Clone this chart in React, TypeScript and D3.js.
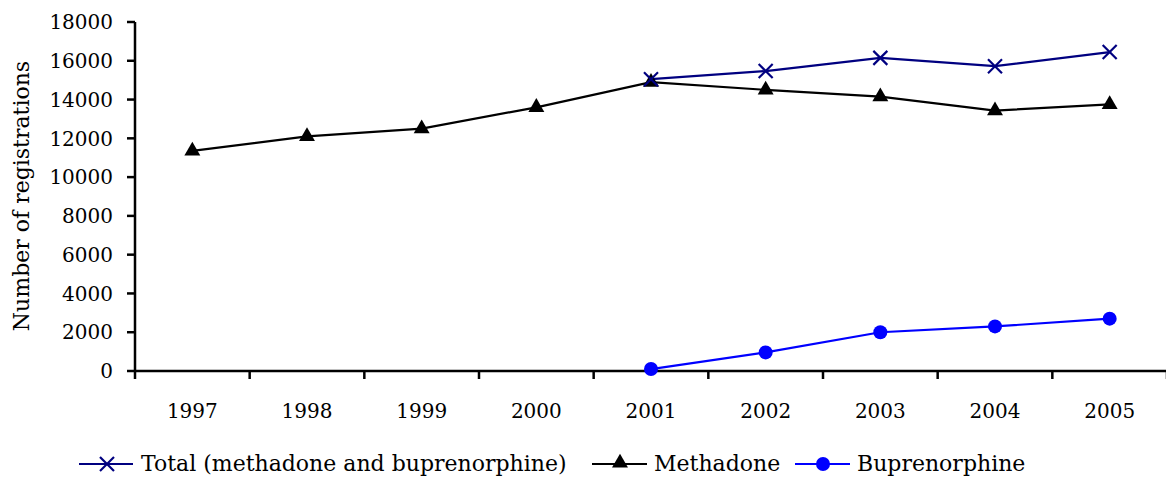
import React from "react";
import * as d3 from "d3";

const years = ["1997", "1998", "1999", "2000", "2001", "2002", "2003", "2004", "2005"];
const methadone = [11350, 12100, 12500, 13600, 14900, 14500, 14150, 13430, 13750];
const totalYears = ["2001", "2002", "2003", "2004", "2005"];
const totalValues = [15050, 15470, 16150, 15720, 16450];
const bupYears = ["2001", "2002", "2003", "2004", "2005"];
const bupValues = [100, 960, 2000, 2300, 2700];
const yTicks = [0, 2000, 4000, 6000, 8000, 10000, 12000, 14000, 16000, 18000];

const W = 1166;
const H = 479;
const FONT = "'DejaVu Serif', serif";
const FS = 20;
const TFS = 22;

export default function App() {
  const x = d3.scaleBand<string>().domain(years).range([135, 1167]);
  const y = d3.scaleLinear().domain([0, 18000]).range([371, 22]);
  const cx = (yr: string) => (x(yr) as number) + x.bandwidth() / 2;

  const line = d3
    .line<[string, number]>()
    .x((d) => cx(d[0]))
    .y((d) => y(d[1]));

  const methPts: [string, number][] = years.map((yr, i) => [yr, methadone[i]]);
  const totPts: [string, number][] = totalYears.map((yr, i) => [yr, totalValues[i]]);
  const bupPts: [string, number][] = bupYears.map((yr, i) => [yr, bupValues[i]]);

  const tri = d3.symbol().type(d3.symbolTriangle).size(110)() as string;

  const xMark = (px: number, py: number, key: string, color: string) => (
    <g key={key} stroke={color} strokeWidth={2.2}>
      <line x1={px - 7} y1={py - 7} x2={px + 7} y2={py + 7} />
      <line x1={px - 7} y1={py + 7} x2={px + 7} y2={py - 7} />
    </g>
  );

  const ticksX = d3.range(years.length + 1).map((i) => 135 + i * x.bandwidth());
  const LY = 464;

  return (
    <svg width={W} height={H} style={{ position: "absolute", left: 0, top: 0, background: "#fff" }}>
      <rect width={W} height={H} fill="#fff" />
      {/* y axis */}
      <line x1={135} y1={22} x2={135} y2={372} stroke="#000" strokeWidth={2.5} />
      {yTicks.map((t) => (
        <g key={t}>
          <line x1={127} y1={y(t)} x2={135} y2={y(t)} stroke="#000" strokeWidth={2.5} />
          <text x={113} y={y(t)} dy="0.36em" textAnchor="end" fontFamily={FONT} fontSize={FS} fill="#000">
            {t}
          </text>
        </g>
      ))}
      {/* x axis */}
      <line x1={134} y1={371} x2={1166} y2={371} stroke="#000" strokeWidth={2.5} />
      {ticksX.map((tx, i) => (
        <line key={i} x1={tx} y1={371} x2={tx} y2={379} stroke="#000" strokeWidth={2.5} />
      ))}
      {years.map((yr) => (
        <text key={yr} x={cx(yr)} y={418} textAnchor="middle" fontFamily={FONT} fontSize={FS} fill="#000">
          {yr}
        </text>
      ))}
      <text
        transform="translate(21,196) rotate(-90)"
        dy="0.36em"
        textAnchor="middle"
        fontFamily={FONT}
        fontSize={TFS}
        fill="#000"
      >
        Number of registrations
      </text>

      {/* lines */}
      <path d={line(methPts) as string} fill="none" stroke="#000" strokeWidth={2.2} />
      <path d={line(bupPts) as string} fill="none" stroke="#0000FF" strokeWidth={2.2} />
      <path d={line(totPts) as string} fill="none" stroke="#000080" strokeWidth={2.2} />

      {methPts.map((d) => (
        <path key={"m" + d[0]} d={tri} transform={`translate(${cx(d[0])},${y(d[1])})`} fill="#000" />
      ))}
      {bupPts.map((d) => (
        <circle key={"b" + d[0]} cx={cx(d[0])} cy={y(d[1])} r={7} fill="#0000FF" />
      ))}
      {totPts.map((d) => xMark(cx(d[0]), y(d[1]), "t" + d[0], "#000080"))}

      {/* legend */}
      <line x1={79} y1={LY} x2={133} y2={LY} stroke="#000080" strokeWidth={2.2} />
      {xMark(107, LY, "lt", "#000080")}
      <text x={141} y={471} fontFamily={FONT} fontSize={TFS} fill="#000">
        Total (methadone and buprenorphine)
      </text>
      <line x1={592} y1={LY} x2={647} y2={LY} stroke="#000" strokeWidth={2.2} />
      <path d={tri} transform={`translate(620,${LY - 1})`} fill="#000" />
      <text x={654} y={471} fontFamily={FONT} fontSize={TFS} fill="#000">
        Methadone
      </text>
      <line x1={795} y1={LY} x2={850} y2={LY} stroke="#0000FF" strokeWidth={2.2} />
      <circle cx={823} cy={LY} r={7} fill="#0000FF" />
      <text x={857} y={471} fontFamily={FONT} fontSize={TFS} fill="#000">
        Buprenorphine
      </text>
    </svg>
  );
}
